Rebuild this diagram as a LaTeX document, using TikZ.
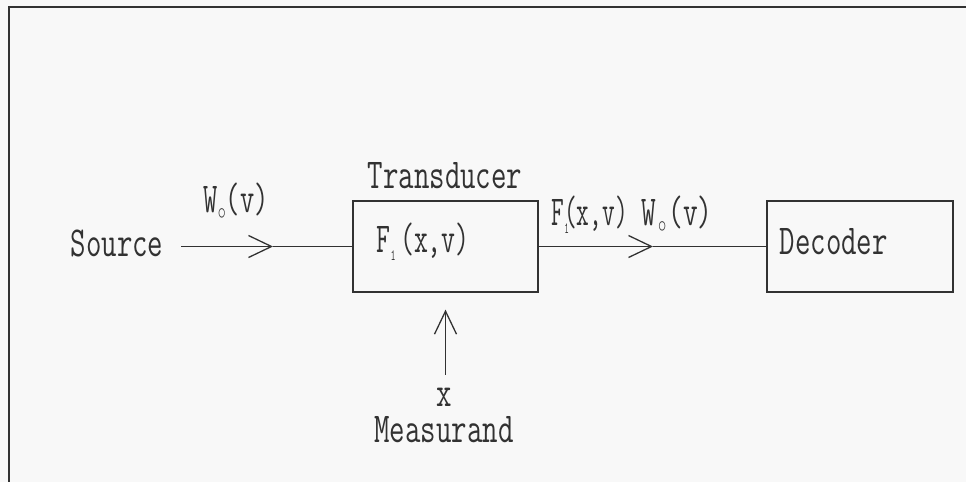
\documentclass[tikz,border=0pt]{standalone}
\usepackage{graphicx}
\usetikzlibrary{arrows.meta}
\newcommand{\mytx}[1]{\scalebox{1}[1.42]{\fontsize{30}{36}\ttfamily\selectfont #1}}
\newcommand{\mytxs}[2]{\scalebox{#1}[1.42]{\fontsize{30}{36}\ttfamily\selectfont #2}}
\newcommand{\subc}{\raisebox{-5pt}{\fontsize{19}{19}\selectfont$\circ$}}
\newcommand{\subone}{\raisebox{-6pt}{\fontsize{11}{11}\selectfont 1}}
\definecolor{bgc}{RGB}{248,248,248}
\definecolor{ink}{RGB}{50,50,50}
\begin{document}
\begin{tikzpicture}[x=1pt,y=-1pt,line width=1.3pt,
  every node/.style={inner sep=0pt,text=ink},
  blockbox/.style={draw=ink,minimum width=185pt,minimum height=91pt},
  lbl/.style={anchor=base west},
  tip/.style={-{Straight Barb[length=23pt,width=22pt]}}]
\fill[bgc] (0,0) rectangle (966,482);
\useasboundingbox (0,0) rectangle (966,482);
% frame
\coordinate (f1) at (966,7);
\coordinate (f2) at (9,7);
\coordinate (f3) at (9,482);
\draw[ink,line width=1.6pt] (f1) -- (f2) -- (f3);
% blocks
\node[blockbox] (tr) at (445.5,246.5) {};
\node[blockbox,minimum width=186pt] (dec) at (860,246.5) {};
% texts
\node[lbl] (src) at (70,256) {\mytx{Source}};
\node[lbl] (w1) at (203,212) {\mytxs{0.92}{W\subc(v)}};
\node[anchor=base] (trl) at (445,188) {\mytx{Transducer}};
\node[lbl] (f1l) at (376,252) {\mytxs{0.9}{F\subone\,(x,v)}};
\node[lbl] (f2l) at (551,225) {\mytxs{0.82}{F\rlap{\subone}(x,v)}};
\node[lbl] (w2) at (641,225) {\mytxs{0.95}{W\kern2pt\subc\kern2pt(v)}};
\node[lbl] (decl) at (779,254) {\mytx{Decoder}};
\node[anchor=base] (xl) at (444,406) {\mytx{x}};
\node[anchor=base] (ms) at (444,442) {\mytx{Measurand}};
% connectors
\coordinate (a1) at (273,246.5);
\coordinate (a2) at (653,246.5);
\coordinate (s0) at ([xshift=17pt]src.east);
\draw[ink,tip] (s0 |- a1) -- (a1);
\draw[ink] (a1) -- (tr.west);
\draw[ink,tip] (tr.east) -- (a2);
\draw[ink] (a2) -- (dec.west);
\coordinate (m0) at ([yshift=-82pt]tr.south);
\draw[ink,tip] (m0) -- ([yshift=-17pt]tr.south);
\end{tikzpicture}
\end{document}
